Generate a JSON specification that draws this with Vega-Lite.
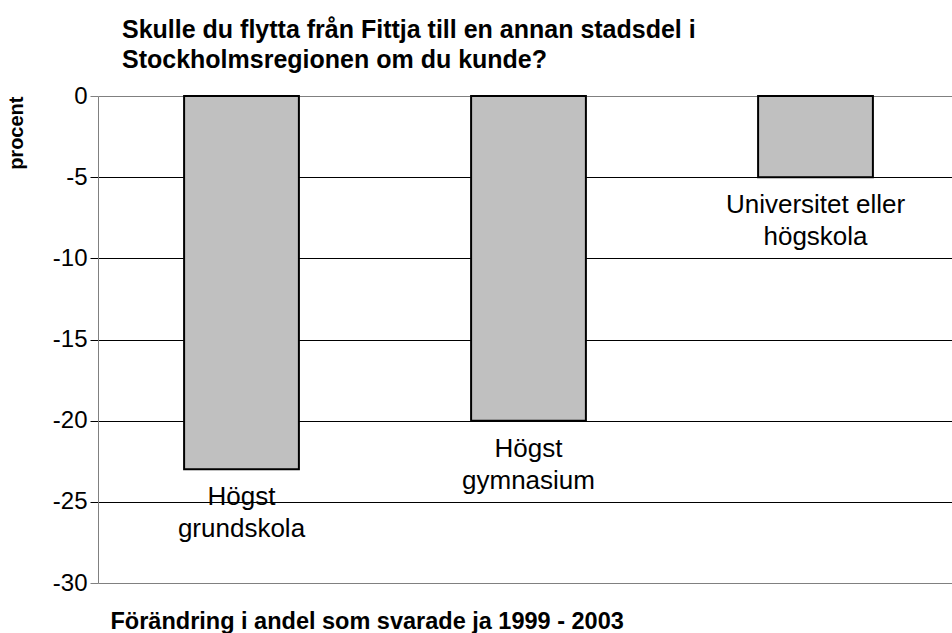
{
  "$schema": "https://vega.github.io/schema/vega-lite/v6.json",
  "width": 854,
  "height": 487,
  "autosize": {"type": "none"},
  "padding": {"left": 98, "top": 96, "right": 0, "bottom": 50},
  "background": "white",
  "title": {
    "text": ["Skulle du flytta från Fittja till en annan stadsdel i", "Stockholmsregionen om du kunde?"],
    "anchor": "start",
    "frame": "group",
    "dx": 24,
    "font": "Liberation Sans",
    "fontSize": 25,
    "fontWeight": "bold",
    "lineHeight": 30,
    "color": "black",
    "offset": 11
  },
  "data": {
    "values": [
      {"kategori": "Högst grundskola", "etikett": "Högst\ngrundskola", "procent": -23},
      {"kategori": "Högst gymnasium", "etikett": "Högst\ngymnasium", "procent": -20},
      {"kategori": "Universitet eller högskola", "etikett": "Universitet eller\nhögskola", "procent": -5}
    ]
  },
  "encoding": {
    "x": {
      "field": "kategori",
      "type": "nominal",
      "sort": null,
      "scale": {"paddingInner": 0.6, "paddingOuter": 0.3, "range": [0, 861]},
      "axis": {
        "title": "Förändring i andel som svarade ja 1999 - 2003",
        "labels": false,
        "ticks": false,
        "domain": false,
        "titleFont": "Liberation Sans",
        "titleFontSize": 23.5,
        "titleFontWeight": "bold",
        "titleColor": "black",
        "titleAnchor": "start",
        "titleAlign": "left",
        "titleBaseline": "alphabetic",
        "titleX": 12,
        "titleY": 45
      }
    },
    "y": {
      "field": "procent",
      "type": "quantitative",
      "scale": {"domain": [-30, 0], "nice": false, "zero": false},
      "axis": {
        "title": "procent",
        "values": [0, -5, -10, -15, -20, -25, -30],
        "labelExpr": "'' + datum.value",
        "grid": true,
        "gridColor": {"condition": {"test": "datum.value === 0 || datum.value === -30", "value": "#808080"}, "value": "black"},
        "gridWidth": 1,
        "gridOpacity": 1,
        "domainColor": "#808080",
        "domainWidth": 1,
        "tickColor": {"condition": {"test": "datum.value === 0 || datum.value === -30", "value": "#808080"}, "value": "black"},
        "tickSize": 8,
        "tickWidth": 1,
        "labelFont": "Liberation Sans",
        "labelFontSize": 24,
        "labelColor": "black",
        "labelPadding": 3,
        "labelFlush": false,
        "labelOverlap": false,
        "titleFont": "Liberation Sans",
        "titleFontSize": 20,
        "titleFontWeight": "bold",
        "titleColor": "black",
        "titleAngle": -90,
        "titleAlign": "right",
        "titleBaseline": "alphabetic",
        "titleX": -76,
        "titleY": 0
      }
    }
  },
  "layer": [
    {
      "mark": {"type": "bar", "fill": "#C0C0C0", "stroke": "black", "strokeWidth": 2},
      "encoding": {}
    },
    {
      "mark": {
        "type": "text",
        "font": "Liberation Sans",
        "fontSize": 26,
        "color": "black",
        "align": "center",
        "baseline": "alphabetic",
        "dy": 36,
        "lineBreak": "\n",
        "lineHeight": 32
      },
      "encoding": {"text": {"field": "etikett"}}
    }
  ],
  "config": {"view": {"stroke": null}}
}
